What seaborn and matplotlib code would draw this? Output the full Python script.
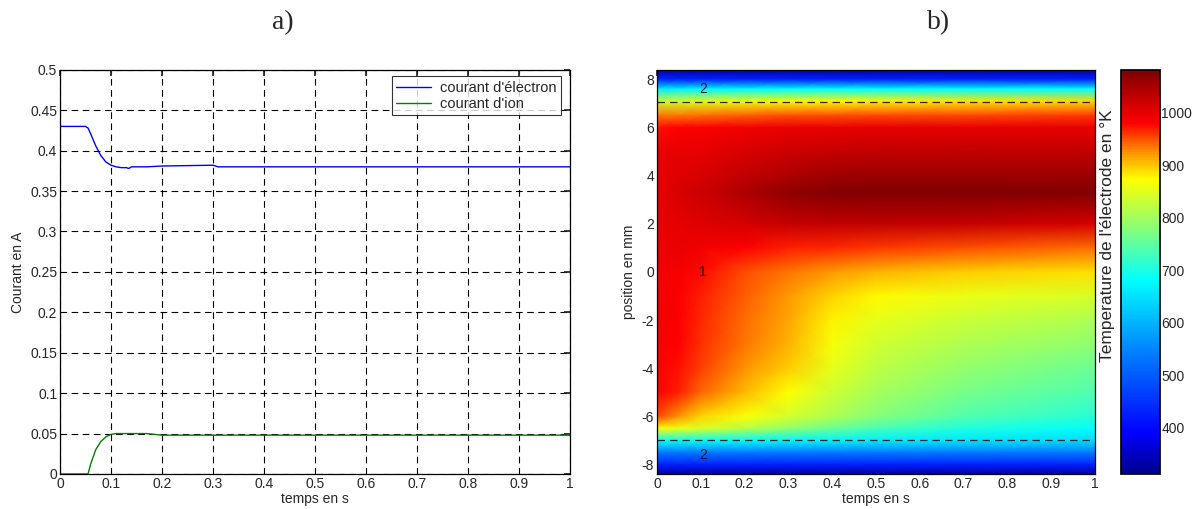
import numpy as np
import pandas as pd
import matplotlib
matplotlib.use("Agg")
import matplotlib.pyplot as plt
from matplotlib.colors import LinearSegmentedColormap
import seaborn as sns

# --- a) currents versus time ---
t_curr = [0, 0.05, 0.055, 0.06, 0.07, 0.08, 0.09, 0.10, 0.11, 0.12, 0.13, 0.135,
          0.14, 0.17, 0.2, 0.3, 0.31, 0.6, 1.0]
i_electron = [0.430, 0.430, 0.428, 0.421, 0.406, 0.394, 0.386, 0.382, 0.380, 0.379,
              0.379, 0.378, 0.380, 0.380, 0.381, 0.382, 0.380, 0.380, 0.380]
i_ion = [0.0, 0.0, 0.0, 0.012, 0.030, 0.040, 0.046, 0.049, 0.050, 0.050,
         0.050, 0.050, 0.050, 0.050, 0.048, 0.048, 0.048, 0.048, 0.048]

# --- b) electrode temperature map (K) ---
t_map = [0.0, 0.05, 0.1, 0.2, 0.3, 0.4, 0.5, 0.7, 1.0]
pos_map = [8.4, 8.0, 7.6, 7.1, 6.5, 6.0, 5.0, 4.0, 3.3, 2.0, 1.0, 0.0, -1.0, -2.0,
           -3.0, -4.0, -5.0, -6.0, -6.5, -7.0, -7.5, -8.0, -8.4]
temp_map = [
    [330, 330, 330, 330, 330, 330, 330, 330, 330],
    [430, 430, 430, 430, 430, 430, 430, 430, 430],
    [660, 665, 670, 675, 680, 680, 680, 680, 680],
    [830, 840, 850, 860, 870, 875, 880, 885, 890],
    [935, 935, 940, 945, 950, 950, 955, 955, 960],
    [975, 980, 985, 990, 995, 995, 1000, 1000, 1000],
    [995, 1000, 1000, 1010, 1020, 1025, 1030, 1030, 1030],
    [1000, 1005, 1010, 1030, 1045, 1055, 1060, 1060, 1060],
    [1000, 1010, 1020, 1045, 1068, 1078, 1082, 1082, 1078],
    [1000, 1000, 1005, 1015, 1025, 1030, 1030, 1025, 1015],
    [995, 995, 990, 980, 970, 965, 960, 950, 940],
    [990, 987, 978, 952, 937, 922, 910, 898, 888],
    [990, 984, 970, 945, 922, 895, 875, 858, 842],
    [990, 982, 966, 940, 915, 880, 855, 832, 810],
    [988, 980, 962, 935, 908, 868, 838, 810, 785],
    [985, 976, 956, 925, 898, 855, 822, 790, 760],
    [982, 968, 942, 905, 872, 835, 805, 768, 738],
    [955, 925, 895, 870, 840, 810, 780, 740, 712],
    [875, 860, 845, 820, 790, 760, 735, 705, 682],
    [690, 690, 685, 680, 675, 670, 665, 655, 645],
    [540, 540, 540, 540, 540, 540, 540, 540, 540],
    [430, 430, 430, 430, 430, 430, 430, 430, 430],
    [330, 330, 330, 330, 330, 330, 330, 330, 330],
]
region_labels = ["2", "1", "2"]
region_label_pos = [(0.105, 7.6), (0.105, 0.0), (0.105, -7.6)]
boundary_pos = [7.05, -7.0]

sns.set_theme(style="white")
plt.rcParams["font.family"] = ["Liberation Sans", "DejaVu Sans"]
plt.rcParams["xtick.direction"] = "in"
plt.rcParams["ytick.direction"] = "in"
plt.rcParams["axes.unicode_minus"] = False

fig = plt.figure(figsize=(12, 5.09), dpi=100)

ax1 = fig.add_axes([0.05, 0.0688, 0.425, 0.794])
ax2 = fig.add_axes([0.5475, 0.0688, 0.365, 0.794])
cax = fig.add_axes([0.934, 0.0688, 0.0325, 0.794])

# left panel
df = pd.DataFrame({"t": t_curr * 2,
                   "I": i_electron + i_ion,
                   "serie": ["courant d'électron"] * len(t_curr) + ["courant d'ion"] * len(t_curr)})
sns.lineplot(data=df, x="t", y="I", hue="serie",
             palette={"courant d'électron": "#0000ff", "courant d'ion": "#008000"},
             ax=ax1, linewidth=1.0, estimator=None, sort=False)
ax1.set_xlim(0, 1)
ax1.set_ylim(0, 0.5)
xt = np.round(np.arange(0, 1.01, 0.1), 1)
ax1.set_xticks(xt)
ax1.set_xticklabels([f"{v:g}" for v in xt])
yt = np.round(np.arange(0, 0.501, 0.05), 2)
ax1.set_yticks(yt)
ax1.set_yticklabels([f"{v:g}" for v in yt])
ax1.grid(True, color="black", linestyle=(0, (6, 4)), linewidth=0.8)
ax1.set_xlabel("temps en s", fontsize=10, labelpad=1)
ax1.set_ylabel("Courant en A", fontsize=10, labelpad=4)
ax1.tick_params(labelsize=10, length=4, top=True, right=True, pad=2)
for s in ax1.spines.values():
    s.set_color("black")
    s.set_linewidth(0.9)
leg = ax1.legend(loc="upper right", fontsize=10.5, frameon=True, fancybox=False,
                 edgecolor="black", handlelength=2.4, borderpad=0.3,
                 labelspacing=0.15, handletextpad=0.6, borderaxespad=0.3,
                 bbox_to_anchor=(0.99, 0.995))
leg.get_frame().set_linewidth(0.8)
leg.set_title(None)

# right panel
cmap = LinearSegmentedColormap.from_list("temp", [
    (0.00, (0.00, 0.00, 0.55)),
    (0.10, (0.00, 0.00, 1.00)),
    (0.30, (0.00, 0.50, 1.00)),
    (0.48, (0.00, 1.00, 1.00)),
    (0.60, (0.50, 1.00, 0.50)),
    (0.73, (1.00, 1.00, 0.00)),
    (0.80, (1.00, 0.55, 0.00)),
    (0.87, (1.00, 0.00, 0.00)),
    (1.00, (0.50, 0.00, 0.00)),
], N=256)
T, P = np.meshgrid(t_map, pos_map)
Z = np.array(temp_map, dtype=float)
mesh = ax2.pcolormesh(T, P, Z, shading="gouraud", cmap=cmap, vmin=312, vmax=1082)
for yb in boundary_pos:
    ax2.axhline(yb, color="black", linestyle=(0, (6, 4)), linewidth=0.9, alpha=0.8)
for txt, (tx, py) in zip(region_labels, region_label_pos):
    ax2.text(tx, py, txt, fontsize=10, ha="center", va="center", color="#1a1a40")
ax2.set_xlim(0, 1)
ax2.set_ylim(-8.4, 8.4)
ax2.set_xticks(xt)
ax2.set_xticklabels([f"{v:g}" for v in xt])
ax2.set_yticks(np.arange(-8, 9, 2))
ax2.set_xlabel("temps en s", fontsize=10, labelpad=1)
ax2.set_ylabel("position en mm", fontsize=10, labelpad=4)
ax2.tick_params(labelsize=10, length=4, top=True, right=True, pad=2)
for s in ax2.spines.values():
    s.set_color("black")
    s.set_linewidth(0.9)

cb = fig.colorbar(mesh, cax=cax)
cb.set_ticks([400, 500, 600, 700, 800, 900, 1000])
cb.ax.tick_params(labelsize=10, length=3, direction="in", pad=1)
cb.outline.set_edgecolor("black")
cb.set_label("Temperature de l'électrode en °K", fontsize=12.5)
cb.ax.yaxis.set_label_position("left")
cb.ax.yaxis.set_label_coords(-0.16, 0.59)

fig.text(0.236, 0.955, "a)", fontsize=20, ha="center", va="center", family="Liberation Serif")
fig.text(0.782, 0.955, "b)", fontsize=20, ha="center", va="center", family="Liberation Serif")

fig.savefig("out.png", dpi=100)
